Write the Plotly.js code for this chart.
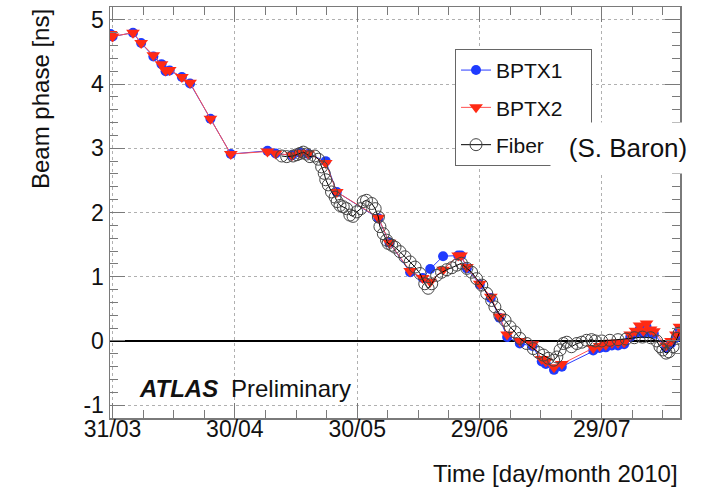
<!DOCTYPE html>
<html>
<head>
<meta charset="utf-8">
<script src="https://cdn.plot.ly/plotly-3.0.1.min.js"></script>
<style>html,body{margin:0;padding:0;background:#fff;}#chart{width:711px;height:491px;}</style>
</head>
<body>
<div id="chart"></div>
<script>
// BPTX2 (red triangles)
const bptx2Dates = ['2010-03-30 12:00','2010-03-31 00:00','2010-04-05','2010-04-07','2010-04-10','2010-04-12','2010-04-13','2010-04-14','2010-04-17','2010-04-19','2010-04-24','2010-04-29',
 '2010-05-08','2010-05-10','2010-05-14','2010-05-16','2010-05-18','2010-05-22 07:00','2010-05-25','2010-06-04 05:00','2010-06-06 22:00','2010-06-12','2010-06-15 02:00','2010-06-16 22:00',
 '2010-06-20 02:00','2010-06-23 19:00','2010-06-24 12:00','2010-06-25 22:00','2010-06-29 02:00','2010-07-01 19:00','2010-07-03 22:00','2010-07-05 19:00','2010-07-08 22:00','2010-07-12',
 '2010-07-14 07:00','2010-07-15 07:00','2010-07-17 07:00','2010-07-19 05:00','2010-07-26 22:00','2010-07-28 12:00','2010-07-30','2010-07-31 12:00','2010-08-02','2010-08-03 12:00',
 '2010-08-05','2010-08-06 07:00','2010-08-07 07:00','2010-08-08 05:00','2010-08-09','2010-08-10','2010-08-10 19:00','2010-08-13 19:00','2010-08-15','2010-08-16 05:00','2010-08-17 02:00'];
const bptx2Values = [4.78,4.74,4.80,4.64,4.45,4.31,4.21,4.22,4.11,4.02,3.46,2.91,
 2.95,2.92,2.89,2.93,2.92,2.77,2.32,1.92,1.53,1.09,0.98,0.92,
 1.11,1.33,1.33,1.15,0.89,0.69,0.38,0.10,0.00,-0.05,
 -0.28,-0.32,-0.41,-0.36,-0.11,-0.08,-0.06,-0.03,-0.03,-0.02,
 0.10,0.16,0.24,0.16,0.27,0.18,0.15,-0.07,0.00,0.10,0.22];

// BPTX1 (blue circles)
const bptx1Dates = bptx2Dates;
const bptx1Values = [4.78,4.74,4.80,4.64,4.43,4.31,4.20,4.21,4.11,4.01,3.46,2.91,
 2.96,2.92,2.89,2.93,2.91,2.80,2.32,1.91,1.53,1.07,0.98,1.12,
 1.32,1.33,1.33,1.13,0.88,0.67,0.36,0.06,-0.04,-0.08,
 -0.32,-0.36,-0.45,-0.40,-0.15,-0.11,-0.10,-0.07,-0.07,-0.05,
 0.06,0.12,0.18,0.12,0.22,0.13,0.11,-0.11,-0.04,0.05,0.18];

// Fiber (open circles)
const fiberDates = ['2010-05-11 12:00','2010-05-12 17:00','2010-05-14 07:00','2010-05-15 05:00','2010-05-16','2010-05-16 19:00','2010-05-17 14:00','2010-05-18 10:00','2010-05-19 14:00','2010-05-20 12:00',
 '2010-05-21 07:00','2010-05-21 22:00','2010-05-22 07:00','2010-05-22 22:00','2010-05-23 17:00','2010-05-24 14:00','2010-05-25 02:00','2010-05-25 19:00','2010-05-26 14:00','2010-05-27 10:00',
 '2010-05-28 05:00','2010-05-29','2010-05-29 22:00','2010-05-30 22:00','2010-05-31 12:00','2010-06-01 07:00','2010-06-02 14:00','2010-06-03 10:00','2010-06-04 05:00','2010-06-04 14:00',
 '2010-06-05 10:00','2010-06-06 05:00','2010-06-06 14:00','2010-06-07 12:00','2010-06-08 07:00','2010-06-09 12:00','2010-06-10 17:00','2010-06-12','2010-06-13 05:00','2010-06-14 10:00',
 '2010-06-15 14:00','2010-06-16 10:00','2010-06-17 07:00','2010-06-18 12:00','2010-06-19 17:00','2010-06-21','2010-06-22 05:00','2010-06-23 10:00','2010-06-24 14:00','2010-06-25 22:00',
 '2010-06-27 02:00','2010-06-28 07:00','2010-06-29 14:00','2010-06-30 19:00','2010-07-02','2010-07-02 19:00','2010-07-04','2010-07-05 07:00','2010-07-06 12:00','2010-07-07 17:00',
 '2010-07-08 22:00','2010-07-10 14:00','2010-07-12 05:00','2010-07-13 12:00','2010-07-14 17:00','2010-07-15 22:00','2010-07-17 05:00','2010-07-18','2010-07-18 19:00','2010-07-19 14:00',
 '2010-07-20 10:00','2010-07-21 14:00','2010-07-22 22:00','2010-07-24 02:00','2010-07-25 07:00','2010-07-26 12:00','2010-07-27 10:00','2010-07-29','2010-07-31','2010-08-02',
 '2010-08-04','2010-08-06','2010-08-08','2010-08-10','2010-08-11 12:00','2010-08-12 07:00','2010-08-13','2010-08-13 19:00','2010-08-14 12:00','2010-08-15 12:00',
 '2010-08-16 12:00','2010-08-17'];
const fiberValues = [2.88,2.87,2.88,2.90,2.92,2.94,2.91,2.87,2.88,2.83,
 2.71,2.61,2.51,2.43,2.32,2.24,2.17,2.11,2.09,2.06,
 1.96,1.94,2.01,2.06,2.17,2.19,2.14,2.06,1.93,1.78,
 1.67,1.57,1.52,1.49,1.46,1.39,1.31,1.23,1.15,1.05,
 0.89,0.82,0.89,1.02,1.07,1.11,1.14,1.18,1.21,1.13,
 1.07,0.97,0.87,0.74,0.63,0.53,0.40,0.32,0.22,0.14,
 0.04,-0.04,-0.12,-0.18,-0.22,-0.27,-0.30,-0.25,-0.14,-0.04,
 -0.02,-0.09,-0.04,-0.02,0.01,0.02,0.00,0.00,0.01,0.02,
 0.03,0.05,0.06,0.05,0.00,-0.09,-0.14,-0.19,-0.17,-0.09,
 0.04,0.12];

const yTickVals = [-1,0,1,2,3,4,5];
const yTickText = ['-1','0','1','2','3','4','5'];

const FONT = 'Liberation Sans, Arial, Helvetica, sans-serif';
const AX = '#7a7a7a';
const PAD = '\u00a0\u00a0\u00a0\u00a0';

const traces = [
  {x: bptx1Dates, y: bptx1Values, name: 'BPTX1' + PAD, type: 'scatter', mode: 'lines+markers', legendgroup: 'a',
   line: {color: '#2a3cff', width: 1}, marker: {color: '#1f3bff', size: 10, symbol: 'circle'}},
  {x: bptx2Dates, y: bptx2Values, name: 'BPTX2', type: 'scatter', mode: 'lines+markers', legendgroup: 'b',
   line: {color: '#ff5050', width: 1}, marker: {color: '#ff2a14', size: 12, symbol: 'triangle-down'}},
  {x: fiberDates, y: fiberValues, name: 'Fiber', type: 'scatter', mode: 'lines+markers', legendgroup: 'c',
   line: {color: '#000000', width: 1}, marker: {color: '#444444', size: 12, symbol: 'circle-open', line: {width: 1}}}
];

const layout = {
  width: 711, height: 491,
  margin: {l: 110, r: 31, t: 7, b: 73},
  paper_bgcolor: '#fff', plot_bgcolor: '#fff',
  font: {family: FONT, color: '#111', size: 23},
  showlegend: true,
  legend: {x: 0.6053, y: 0.898, xanchor: 'left', yanchor: 'top', bgcolor: '#fff', bordercolor: '#666', borderwidth: 1,
           font: {family: FONT, size: 21, color: '#111'}, tracegroupgap: 7, itemwidth: 30},
  xaxis: {
    type: 'date', range: ['2010-03-30 08:40', '2010-08-17 05:00'],
    tickmode: 'linear', tick0: '2010-03-31', dtick: 2592000000, tickformat: '%d/%m',
    ticks: 'inside', ticklen: 15, tickwidth: 1, tickcolor: AX,
    ticklabelposition: 'outside', ticklabelstandoff: -10,
    minor: {tick0: '2010-03-31', dtick: 648000000, ticks: 'inside', ticklen: 8, tickcolor: AX, showgrid: false},
    showgrid: true, gridcolor: '#b0b0b0', griddash: 'dot', gridwidth: 1,
    showline: true, linecolor: AX, linewidth: 1.5, mirror: 'ticks', zeroline: false,
    tickfont: {family: FONT, size: 23, color: '#111'}
  },
  yaxis: {
    range: [-1.2, 5.2], tickmode: 'array', tickvals: yTickVals, ticktext: yTickText,
    ticks: 'inside', ticklen: 15, tickwidth: 1, tickcolor: AX,
    minor: {tick0: 0, dtick: 0.2, ticks: 'inside', ticklen: 8, tickcolor: AX, showgrid: false},
    showgrid: true, gridcolor: '#b0b0b0', griddash: 'dot', gridwidth: 1,
    showline: true, linecolor: AX, linewidth: 1.5, mirror: 'ticks',
    zeroline: true, zerolinecolor: '#000', zerolinewidth: 2,
    tickfont: {family: FONT, size: 23, color: '#111'}
  },
  annotations: [
    {xref: 'paper', yref: 'paper', x: (40 - 110) / 570, y: 1.0, xanchor: 'center', yanchor: 'top', textangle: -90,
     text: 'Beam phase [ns]', showarrow: false, font: {family: FONT, size: 24, color: '#111'}},
    {xref: 'paper', yref: 'paper', x: 1.0, y: -(473 - 418) / 411, xanchor: 'right', yanchor: 'middle',
     text: 'Time [day/month 2010]', showarrow: false, font: {family: FONT, size: 24, color: '#111'}},
    {xref: 'paper', yref: 'paper', x: (137 - 110) / 570, y: 1 - (388 - 7) / 411, xanchor: 'left', yanchor: 'middle',
     text: '<b><i>ATLAS</i></b>', showarrow: false, font: {family: FONT, size: 24, color: '#111'}},
    {xref: 'paper', yref: 'paper', x: (353 - 110) / 570, y: 1 - (388 - 7) / 411, xanchor: 'right', yanchor: 'middle',
     text: 'Preliminary', showarrow: false, font: {family: FONT, size: 24, color: '#111'}},
    {xref: 'paper', yref: 'paper', x: (550 - 110) / 570, y: 1 - (122 - 7) / 411, xanchor: 'left', yanchor: 'top',
     width: 152, height: 48, bgcolor: '#fff', borderpad: 1,
     text: '(S. Baron)', showarrow: false, font: {family: FONT, size: 26, color: '#111'}}
  ]
};

Plotly.newPlot('chart', traces, layout, {displayModeBar: false, staticPlot: true});
</script>
</body>
</html>
